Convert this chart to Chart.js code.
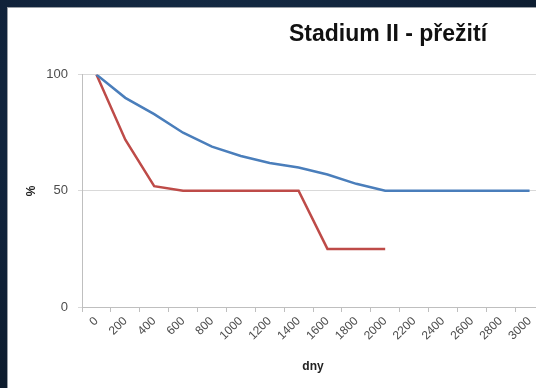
<!DOCTYPE html>
<html lang="cs">
<head>
<meta charset="utf-8">
<title>Stadium II - přežití</title>
<script src="https://cdn.jsdelivr.net/npm/chart.js@4/dist/chart.umd.min.js"></script>
<style>
  html, body { margin: 0; padding: 0; }
  body {
    width: 536px; height: 388px; overflow: hidden; position: relative;
    background: radial-gradient(ellipse at 40% 30%, #17304a 0%, #10223a 55%, #0b1826 100%);
  }
  .panel {
    position: absolute; left: 7px; top: 7px;
    width: 760px; height: 380px;
    background: #fff;
    border-left: 1px solid #9a9fa6; border-top: 1px solid #9a9fa6;
  }
  canvas { display: block; }
</style>
</head>
<body>
<div class="panel"><canvas id="chart-prezivani" width="760" height="380"></canvas></div>
<script>
// dny od diagnózy (kategorie osy x)
const dny = ['0','200','400','600','800','1000','1200','1400','1600','1800','2000','2200','2400','2600','2800','3000'];
// přežití v % – dvě skupiny
const skupinaModra = [100, 90, 83, 75, 69, 65, 62, 60, 57, 53, 50, 50, 50, 50, 50, 50];
const skupinaCervena = [100, 72, 52, 50, 50, 50, 50, 50, 25, 25, 25, null, null, null, null, null];
const osaY = [0, 50, 100];

const sedaText = '#4d4d4d';
const fontZaklad = 'Liberation Sans, Arial, sans-serif';

const ctx = document.getElementById('chart-prezivani');
new Chart(ctx, {
  type: 'line',
  data: {
    labels: dny,
    datasets: [
      {
        label: 'Řada 1',
        data: skupinaModra,
        borderColor: '#4a7ebb',
        borderWidth: 2.5,
        pointRadius: 0,
        tension: 0,
      },
      {
        label: 'Řada 2',
        data: skupinaCervena,
        borderColor: '#be4b48',
        borderWidth: 2.5,
        pointRadius: 0,
        tension: 0,
      },
    ],
  },
  options: {
    responsive: false,
    animation: false,
    layout: { padding: 0 },
    plugins: {
      legend: { display: false },
      tooltip: { enabled: false },
      title: {
        display: true,
        text: 'Stadium II - přežití',
        color: '#111',
        font: { family: fontZaklad, size: 23, weight: 'bold' },
        padding: { top: 13, bottom: 26 },
      },
    },
    scales: {
      x: {
        offset: true,
        grid: {
          offset: true,
          drawOnChartArea: false,
          drawTicks: true,
          tickLength: 5,
          color: '#bfbfbf',
        },
        border: { color: '#bfbfbf', width: 1 },
        ticks: {
          autoSkip: false,
          minRotation: 45,
          maxRotation: 45,
          padding: 2,
          color: sedaText,
          font: { family: fontZaklad, size: 12 },
        },
        title: {
          display: true,
          text: 'dny',
          color: '#222',
          font: { family: fontZaklad, size: 12, weight: 'bold' },
          padding: { top: 0, bottom: 14 },
        },
        afterFit: s => { s.height = 81; },
      },
      y: {
        min: 0,
        max: 100,
        afterBuildTicks: s => { s.ticks = osaY.map(v => ({ value: v })); },
        grid: {
          color: '#d9d9d9',
          lineWidth: 1,
          tickLength: 4,
        },
        border: { color: '#bfbfbf', width: 1 },
        ticks: {
          padding: 10,
          color: sedaText,
          font: { family: fontZaklad, size: 13 },
        },
        title: {
          display: true,
          text: '%',
          color: '#222',
          font: { family: fontZaklad, size: 12, weight: 'bold' },
          padding: { top: 16, bottom: 0 },
        },
        afterFit: s => { s.width = 74; },
      },
      // prázdný pravý okraj (místo pro legendu), titulek zůstává přes celou šířku
      pravyOkraj: {
        type: 'linear',
        position: 'right',
        display: true,
        grid: { display: false },
        border: { display: false },
        ticks: { display: false },
        afterFit: s => { s.width = 224; },
      },
    },
  },
});
</script>
</body>
</html>
